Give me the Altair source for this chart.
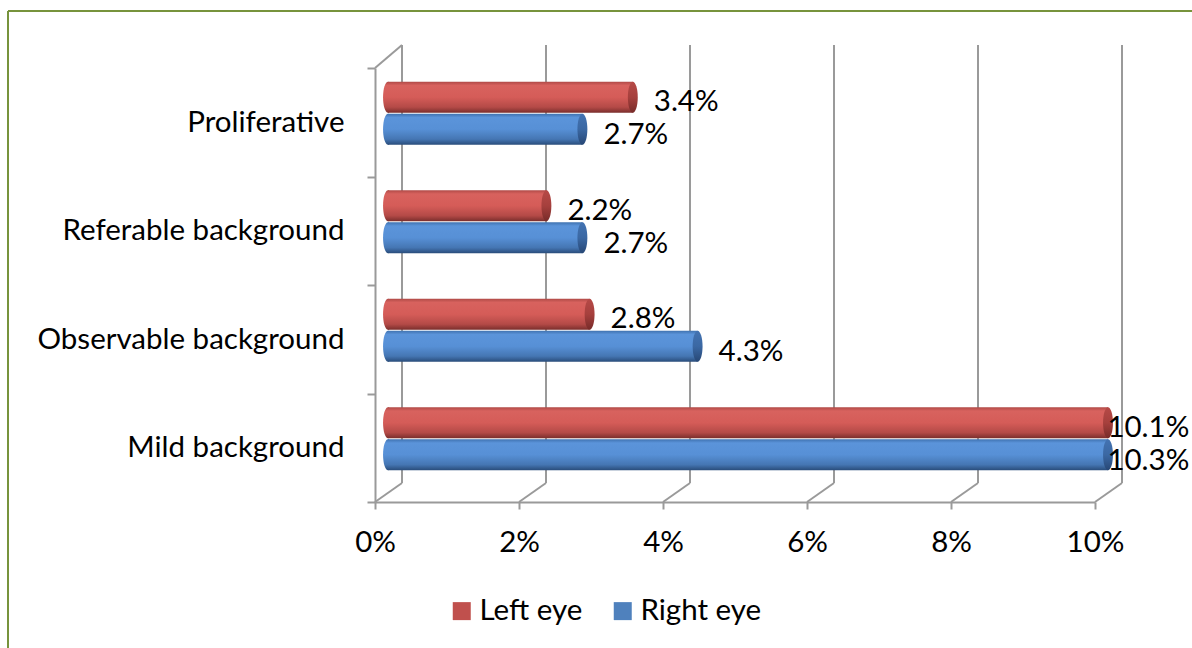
import altair as alt
import pandas as pd

# Diabetic retinopathy grade, share of eyes affected (%)
categories = ["Proliferative", "Referable background", "Observable background", "Mild background"]
left_eye = [3.4, 2.2, 2.8, 10.1]
right_eye = [2.7, 2.7, 4.3, 10.3]
series = ["Left eye", "Right eye"]
x_ticks = [0, 2, 4, 6, 8, 10]

rows = []
for cat, l, r in zip(categories, left_eye, right_eye):
    rows.append({"category": cat, "eye": "Left eye", "value": l})
    rows.append({"category": cat, "eye": "Right eye", "value": r})
df = pd.DataFrame(rows)
ticks_df = pd.DataFrame({"t": x_ticks})

FONT = "Lato"
FS = 29.5
GRID = "#9a9a9a"
W, H = 720, 434
DEPTH_X, DEPTH_Y = 27, 19   # depth of the back wall
X_MAX = 10                  # axis maximum; longer bars are cut at it
BAR_DX = 13                 # bars sit mid-depth

x_axis = alt.Axis(values=x_ticks, labelExpr="datum.value + '%'", grid=False,
                  domainColor=GRID, domainWidth=2, tickColor=GRID, tickWidth=2,
                  tickSize=7, labelFontSize=FS, labelColor="black", labelFont=FONT,
                  labelPadding=19, labelFlush=False, title=None)
y_axis = alt.Axis(grid=False, domainColor=GRID, domainWidth=2, tickColor=GRID,
                  tickWidth=2, tickSize=8, tickBand="extent", labelFontSize=FS,
                  labelColor="black", labelFont=FONT, labelPadding=23,
                  labelLimit=500, title=None)

x_scale = alt.Scale(domain=[0, X_MAX], nice=False)


def xq(field):
    return alt.X(f"{field}:Q", scale=x_scale, axis=x_axis)


Y = alt.Y("category:N", sort=categories,
          scale=alt.Scale(paddingInner=0, paddingOuter=0), axis=y_axis)


def grad(stops):
    return alt.Gradient(gradient="linear", x1=0, x2=0, y1=0, y2=1,
                        stops=[alt.GradientStop(offset=o, color=c) for o, c in stops])


body = {
    "Left eye": grad([(0, "#b04a47"), (0.12, "#d8625e"), (0.5, "#d55c58"),
                      (0.82, "#b44a47"), (1, "#7a2e2c")]),
    "Right eye": grad([(0, "#3f72b0"), (0.12, "#5b94da"), (0.5, "#5790d6"),
                       (0.82, "#4576b3"), (1, "#294c7a")]),
}
cap = {
    "Left eye": grad([(0, "#b64a47"), (0.5, "#a6403d"), (1, "#772b29")]),
    "Right eye": grad([(0, "#4373b2"), (0.5, "#3b68a3"), (1, "#274775")]),
}
bar_dy = {"Left eye": -25, "Right eye": 7}
label_dy = {"Left eye": -20, "Right eye": 13}
BAR_H = 31
ELLIPSE = "M0.32,0A0.32,1,0,1,1,-0.32,0A0.32,1,0,1,1,0.32,0Z"

# Chart frame
frame = alt.Chart(alt.Data(values=[{}])).mark_rule(color="#77933c", strokeWidth=2).encode(
    x=alt.value(-367), x2=alt.value(900), y=alt.value(-57))
frame_left = alt.Chart(alt.Data(values=[{}])).mark_rule(color="#77933c", strokeWidth=2).encode(
    x=alt.value(-367), y=alt.value(-57), y2=alt.value(700))

# Back wall gridlines and floor edges
back = alt.Chart(ticks_df).mark_rule(color=GRID, strokeWidth=2, xOffset=DEPTH_X).encode(
    x=xq("t"), y=alt.value(-DEPTH_Y - 4), y2=alt.value(H - DEPTH_Y))
floor = alt.Chart(ticks_df).mark_rule(color=GRID, strokeWidth=2, x2Offset=DEPTH_X).encode(
    x=xq("t"), x2="t:Q", y=alt.value(H), y2=alt.value(H - DEPTH_Y))
top_edge = alt.Chart(alt.Data(values=[{"t": 0}])).mark_rule(
    color=GRID, strokeWidth=2, x2Offset=DEPTH_X).encode(
    x=xq("t"), x2="t:Q", y=alt.value(0), y2=alt.value(-DEPTH_Y - 4))

layers = [frame, frame_left, back, floor, top_edge]

for s in series:
    base = alt.Chart(df).transform_filter(alt.datum.eye == s).transform_calculate(
        shown=f"min(datum.value, {X_MAX})", zero="0")
    start = base.mark_point(shape=ELLIPSE, size=BAR_H * BAR_H, filled=True, opacity=1,
                            fill=body[s], strokeWidth=0, xOffset=BAR_DX,
                            yOffset=bar_dy[s]).encode(x=xq("zero"), y=Y)
    bar = base.mark_bar(height=BAR_H, fill=body[s], xOffset=BAR_DX,
                        yOffset=bar_dy[s]).encode(x=xq("shown"), y=Y)
    end = base.mark_point(shape=ELLIPSE, size=BAR_H * BAR_H, filled=True, opacity=1,
                          fill=cap[s], strokeWidth=0, xOffset=BAR_DX,
                          yOffset=bar_dy[s]).encode(x=xq("shown"), y=Y)
    text = base.transform_calculate(
        lx="min(datum.value, 9.7)",
        txt="format(datum.value, '.1f') + '%'").mark_text(
        align="left", baseline="middle", dx=BAR_DX + 21, dy=label_dy[s], font=FONT,
        fontSize=FS, color="black").encode(x=xq("lx"), y=Y, text="txt:N")
    layers += [start, bar, end, text]

# Legend carrier (invisible marks; legend symbols are shown)
legend_layer = alt.Chart(df).transform_calculate(
    shown=f"min(datum.value, {X_MAX})").mark_square(opacity=0, filled=True).encode(
    x=xq("shown"), y=Y,
    color=alt.Color("eye:N", scale=alt.Scale(domain=series, range=["#c0504d", "#4f81bd"]),
                    legend=alt.Legend(orient="none", legendX=72, legendY=528,
                                      direction="horizontal", title=None,
                                      symbolType="square", symbolSize=324,
                                      symbolOpacity=1, symbolStrokeWidth=0,
                                      labelFontSize=FS, labelFont=FONT,
                                      labelColor="black", labelOffset=3,
                                      columnPadding=25, padding=0)))
layers.append(legend_layer)

chart = alt.layer(*layers).properties(
    width=W, height=H,
    autosize=alt.AutoSizeParams(type="none"),
    padding={"left": 375, "top": 68, "right": 97, "bottom": 146},
    background="white",
).configure_view(strokeWidth=0)

chart.save("out.html", embed_options={"renderer": "svg", "actions": False})
